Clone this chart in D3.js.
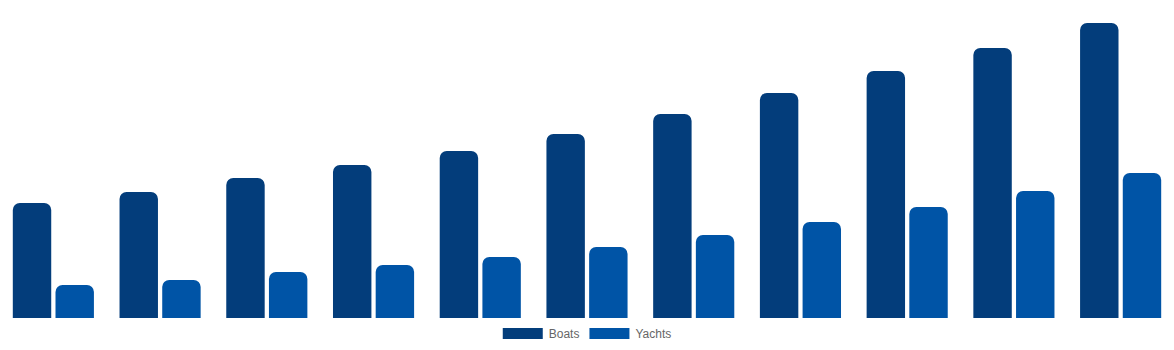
<!DOCTYPE html>
<html>
<head>
<meta charset="utf-8">
<script src="https://cdn.jsdelivr.net/npm/d3@7"></script>
<style>
  body { margin: 0; background: #fff; }
  .legend text { font-family: "Liberation Sans", Arial, Helvetica, sans-serif; font-size: 12px; fill: #666; }
</style>
</head>
<body>
<div class="chart"></div>
<script>
// DATA ------------------------------
const years = ["2010", "2011", "2012", "2013", "2014", "2015", "2016", "2017", "2018", "2019", "2020"]
const series = ["Boats", "Yachts"]
const boats = [115, 126, 140, 153, 167, 184, 204, 225, 247, 270, 295]
const yachts = [33, 38, 46, 53, 61, 71, 83, 96, 111, 127, 145]
const colors = ["#033d7b", "#0054a6"]

// LAYOUT
const width = 1174
const height = 350
const plotBottom = 318

const svg = d3.select(".chart")
  .append("svg")
  .attr("width", width)
  .attr("height", height)

// scales
let x0 = d3.scaleBand()
  .domain(years)
  .range([0, width])
  .padding(0)
let x1 = d3.scaleBand()
  .domain(series)
  .range([x0.bandwidth() * 0.1, x0.bandwidth() * 0.9])
  .paddingInner(0.1)
  .paddingOuter(0.05)
let yScale = d3.scaleLinear()
  .domain([0, plotBottom])
  .range([plotBottom, 0])

// bar with rounded top corners
function topRounded(x, y, w, h, r) {
  r = Math.min(r, w / 2, h)
  return `M${x},${y + h}V${y + r}A${r},${r} 0 0 1 ${x + r},${y}H${x + w - r}A${r},${r} 0 0 1 ${x + w},${y + r}V${y + h}Z`
}

const rows = years.map((yr, i) => ({year: yr, values: [boats[i], yachts[i]]}))

const groups = svg.selectAll(".group")
  .data(rows)
  .enter()
  .append("g")
  .attr("class", "group")
  .attr("transform", d => `translate(${x0(d.year)},0)`)

groups.selectAll("path")
  .data(d => d.values.map((v, j) => ({key: series[j], value: v, color: colors[j]})))
  .enter()
  .append("path")
  .attr("fill", d => d.color)
  .attr("d", d => {
    const y = yScale(d.value)
    return topRounded(x1(d.key), y, x1.bandwidth(), plotBottom - y, 7)
  })

// LEGEND
const legend = svg.append("g").attr("class", "legend")
const items = legend.selectAll("g")
  .data(series)
  .enter()
  .append("g")

items.append("rect")
  .attr("width", 40)
  .attr("height", 11)
  .attr("fill", (d, i) => colors[i])

items.append("text")
  .attr("x", 46)
  .attr("y", 5.5)
  .attr("dy", "0.35em")
  .text(d => d)

// position the legend items side by side, centered
let offset = 0
const widths = []
items.each(function () {
  widths.push(46 + this.querySelector("text").getComputedTextLength())
})
const total = d3.sum(widths) + 10 * (widths.length - 1)
const start = (width - total) / 2
items.attr("transform", (d, i) => {
  const tx = start + offset
  offset += widths[i] + 10
  return `translate(${tx},328)`
})
</script>
</body>
</html>
